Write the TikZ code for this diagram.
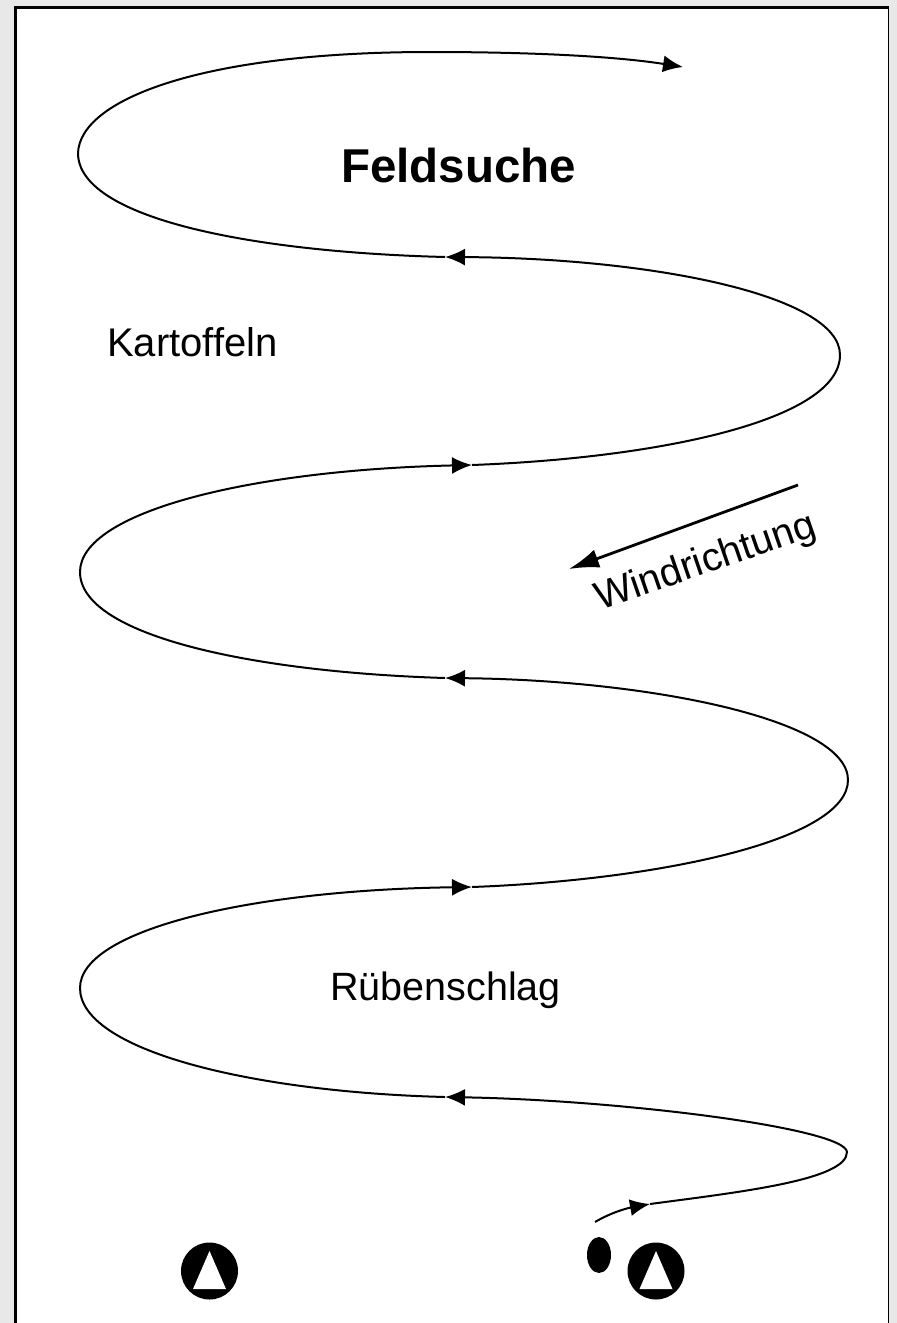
\documentclass[tikz,border=0pt]{standalone}
\usepackage{fontspec}
\setmainfont{Liberation Sans}
\usetikzlibrary{arrows.meta,calc}
\tikzset{
  tracearr/.style={-{Latex[length=20pt,width=17pt]}, line width=2pt},
  windarr/.style={-{Latex[length=30pt,width=19pt]}, line width=2.8pt},
  fieldlbl/.style={font=\fontsize{40}{44}\selectfont, inner sep=0pt},
}

\begin{document}
\begin{tikzpicture}[x=1pt, y=-1pt,
  standmark/.style={circle, fill=black, minimum size=57pt, inner sep=0pt},
]
  \useasboundingbox (0,0) rectangle (897,1323);
  % sheet
  \fill[black!9] (0,0) rectangle (897,1323);
  \fill[white] (15,7) rectangle (889,1330);
  \draw[line width=3pt] (15.5,1330) -- (15.5,7) -- (889,7);
  \draw[line width=1.2pt] (888.5,7) -- (888.5,1330);

  % search track, from the stand up to the top
  \coordinate (s0) at (595,1222);
  \coordinate (a0) at (650,1204);
  \coordinate (r5) at (847,1152);
  \coordinate (a1) at (445,1097);
  \coordinate (l4) at (80,988);
  \coordinate (a2) at (472,887);
  \coordinate (r3) at (848,780);
  \coordinate (a3) at (445,678);
  \coordinate (l2) at (80,572);
  \coordinate (a4) at (472,465);
  \coordinate (r1) at (840,355);
  \coordinate (a5) at (445,257);
  \coordinate (l0) at (78,153);
  \coordinate (top) at (430,52);
  \coordinate (e) at (683,67);

  \draw[tracearr] (s0) .. controls (612,1212) and (628,1208) .. (a0);
  \draw[tracearr] (a0) .. controls (740,1192) and (847,1180) .. (r5)
                       .. controls (845,1128) and (620,1100) .. (a1);
  \draw[tracearr] (a1) .. controls (250,1092) and (80,1050) .. (l4)
                       .. controls (80,930) and (250,890) .. (a2);
  \draw[tracearr] (a2) .. controls (660,880) and (848,840) .. (r3)
                       .. controls (848,720) and (650,680) .. (a3);
  \draw[tracearr] (a3) .. controls (250,672) and (80,635) .. (l2)
                       .. controls (80,512) and (250,470) .. (a4);
  \draw[tracearr] (a4) .. controls (660,458) and (840,420) .. (r1)
                       .. controls (840,295) and (650,258) .. (a5);
  \draw[tracearr] (a5) .. controls (250,252) and (78,218) .. (l0)
                       .. controls (80,100) and (200,52) .. (top)
                       .. controls (540,52) and (620,57) .. (e);

  % labels
  \node[fieldlbl, font=\bfseries\fontsize{47.5}{52}\selectfont, anchor=base west] (title) at (341,182) {Feldsuche};
  \node[fieldlbl, anchor=base west] (potato) at (107,356) {Kartoffeln};
  \node[fieldlbl, font=\fontsize{39.5}{44}\selectfont, anchor=base west] (beet) at (330,1000) {Rübenschlag};
  \node[fieldlbl, font=\fontsize{39.5}{44}\selectfont, rotate=19] (windlbl) at (706,563) {Windrichtung};

  % wind
  \coordinate (windfrom) at (798,485);
  \coordinate (windto) at (569,569);
  \draw[windarr] (windfrom) -- (windto);

  % stands and dog
  \node[standmark] (standL) at (209.5,1271) {};
  \node[standmark] (standR) at (656,1271) {};
  \foreach \st in {standL,standR}
    \fill[white] ($(\st)+(0,-20)$) -- ($(\st)+(-16.5,18)$) -- ($(\st)+(16.5,18)$) -- cycle;
  \fill (599,1255) ellipse [x radius=12, y radius=18];
\end{tikzpicture}
\end{document}
